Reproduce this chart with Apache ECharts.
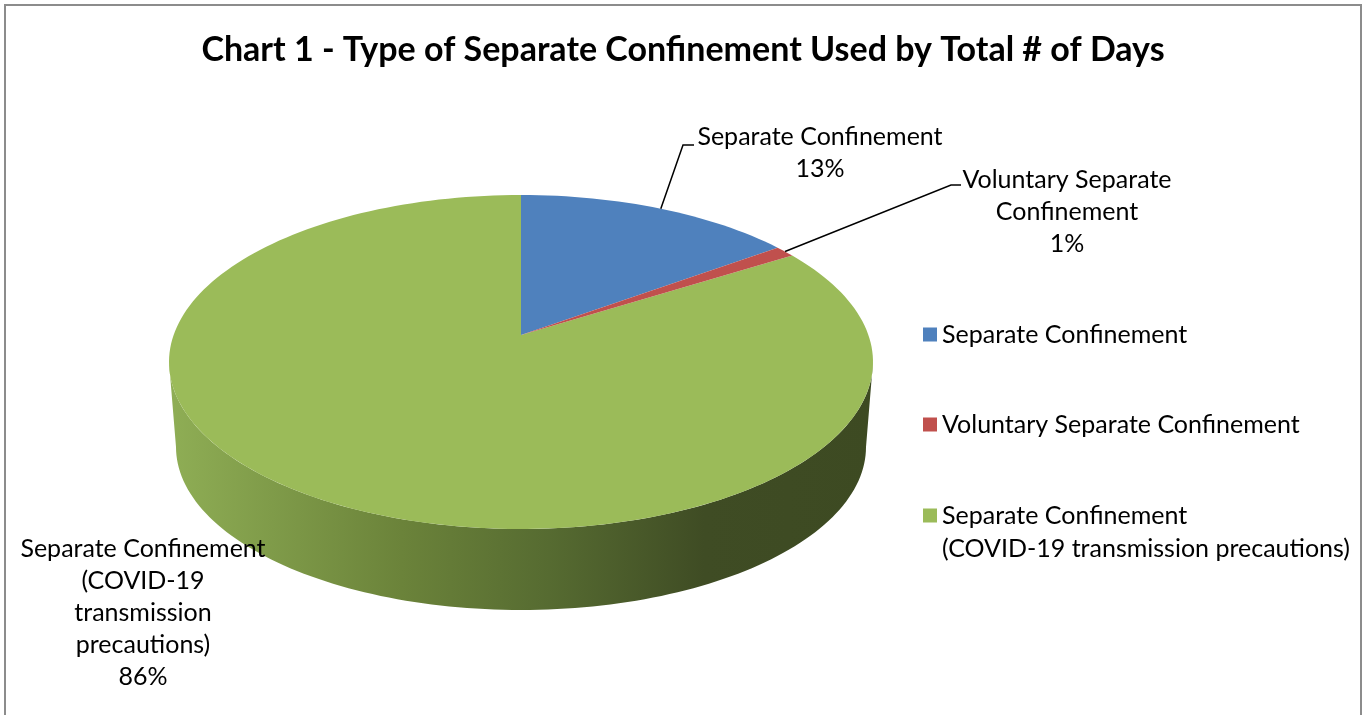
<!DOCTYPE html>
<html>
<head>
<meta charset="utf-8">
<title>Chart 1 - Type of Separate Confinement Used by Total # of Days</title>
<script src="https://cdn.jsdelivr.net/npm/echarts@6/dist/echarts.min.js"></script>
<style>
	html, body { margin: 0; padding: 0; background: #fff; }
	#chart { width: 1366px; height: 715px; }
</style>
</head>
<body>
<div id="chart"></div>
<script>
// 分类（图例名称）
var categories = [
	'Separate Confinement',
	'Voluntary Separate Confinement',
	'Separate Confinement\n(COVID-19 transmission precautions)'
];
// 各类占总天数的百分比
var values = [13, 1, 86];
// 饼图上的数据标签名称
var sliceNames = [
	'Separate Confinement',
	'Voluntary Separate\nConfinement',
	'Separate Confinement\n(COVID-19\ntransmission\nprecautions)'
];
var colors = ['#4f81bd', '#c0504d', '#9bbb59'];

var FONT = 'Lato, "Open Sans", sans-serif';
var FONT_SIZE = 25;

/**
 * 3D饼图几何参数
 * 顶面椭圆中心 cy，饼心 apexY（透视），侧面厚度 depth
 */
var pie = { cx: 521, apexY: 335, cy: 362, rx: 352, ry: 167, depth: 85, rx2: 345, ry2: 163 };

/**
 * 标签布局: 文字中心，引导线拐点
 */
var labelLayout = [
	{ x: 820, y: 153, elbow: [683, 145], end: [694, 145] },
	{ x: 1067, y: 212, elbow: [951, 185], end: [961, 185] },
	{ x: 143, y: 613, elbow: null }
];

var total = 0, starts = [];
for (var i = 0; i < values.length; i ++) {
	starts.push(total);
	total += values[i];
}

// 角度（度，从正上方顺时针）-> 椭圆上的点
function ellPoint(deg, cy, rx, ry) {
	var r = deg * Math.PI / 180;
	return [pie.cx + rx * Math.sin(r), cy - ry * Math.cos(r)];
}

function arc(a0, a1, cy, rx, ry) {
	var pts = [], n = Math.max(2, Math.ceil(Math.abs(a1 - a0) / 1.5));
	for (var k = 0; k <= n; k ++) {
		pts.push(ellPoint(a0 + (a1 - a0) * k / n, cy, rx, ry));
	}
	return pts;
}

function makeRender(idx) {
	return function(params, api) {
		var val = api.value(0);
		var a0 = starts[idx] / total * 360,
			a1 = a0 + val / total * 360;
		var children = [];

		// 侧面（只画正面可见的部分 90° ~ 270°）
		var c0 = Math.max(a0, 90), c1 = Math.min(a1, 270);
		if (c1 > c0) {
			var top = arc(c0, c1, pie.cy, pie.rx, pie.ry),
				bottom = arc(c1, c0, pie.cy + pie.depth, pie.rx2, pie.ry2);
			children.push({
				type: 'polygon',
				shape: { points: top.concat(bottom) },
				style: {
					fill: new echarts.graphic.LinearGradient(0, 0, 1, 0, [
						{ offset: 0, color: '#8fae55' },
						{ offset: 0.33, color: '#6b833a' },
						{ offset: 0.54, color: '#566b31' },
						{ offset: 0.76, color: '#3f4c24' },
						{ offset: 1, color: '#3d4a22' }
					])
				}
			});
		}

		// 顶面
		var face = [[pie.cx, pie.apexY]].concat(arc(a0, a1, pie.cy, pie.rx, pie.ry));
		children.push({
			type: 'polygon',
			shape: { points: face },
			style: { fill: colors[idx] }
		});

		// 引导线
		var lay = labelLayout[idx];
		if (lay.elbow) {
			var mid = ellPoint((a0 + a1) / 2, pie.cy, pie.rx, pie.ry);
			children.push({
				type: 'polyline',
				shape: { points: [mid, lay.elbow, lay.end] },
				style: { stroke: '#000', lineWidth: 1.5, fill: null },
				z2: 10
			});
		}

		// 数据标签
		children.push({
			type: 'text',
			style: {
				text: sliceNames[idx] + '\n' + Math.round(val / total * 100) + '%',
				x: lay.x,
				y: lay.y,
				align: 'center',
				verticalAlign: 'middle',
				fontFamily: FONT,
				fontSize: FONT_SIZE,
				lineHeight: 32,
				fill: '#000'
			},
			z2: 10
		});

		return { type: 'group', children: children };
	};
}

var series = [], legends = [];
var legendTops = [318, 408, 466];
for (var i = 0; i < categories.length; i ++) {
	series.push({
		type: 'custom',
		name: categories[i],
		coordinateSystem: 'none',
		itemStyle: { color: colors[i] },
		renderItem: makeRender(i),
		data: [[values[i]]],
		z: i == 2 ? 1 : 2
	});
	var lg = {
		data: [{ name: categories[i], icon: 'rect', itemStyle: { color: colors[i] } }],
		orient: 'vertical',
		left: 923,
		top: legendTops[i],
		padding: 0,
		itemWidth: 14,
		itemHeight: 14,
		selectedMode: false,
		textStyle: {
			fontFamily: FONT,
			fontSize: FONT_SIZE,
			lineHeight: 33,
			color: '#000'
		}
	};
	if (i == 2) {
		// 多行文字时让色块对齐第一行
		lg.formatter = function(name) {
			var parts = name.split('\n');
			return '{s| }\n{a|' + parts[0] + '}\n{a|' + parts[1] + '}';
		};
		lg.textStyle.rich = {
			s: { fontSize: FONT_SIZE, lineHeight: 33, fontFamily: FONT },
			a: { fontSize: FONT_SIZE, lineHeight: 33, fontFamily: FONT, color: '#000' }
		};
	}
	legends.push(lg);
}

var chart = echarts.init(document.getElementById('chart'));
chart.setOption({
	animation: false,
	backgroundColor: '#fff',
	title: {
		text: 'Chart 1 - Type of Separate Confinement Used by Total # of Days',
		left: 'center',
		top: 33,
		padding: 0,
		textStyle: {
			fontFamily: FONT,
			fontSize: 34,
			fontWeight: 'bold',
			color: '#000'
		}
	},
	legend: legends,
	graphic: [{
		type: 'rect',
		shape: { x: 5, y: 5, width: 1356, height: 800 },
		style: { fill: null, stroke: '#8c8c8c', lineWidth: 2 },
		silent: true
	}],
	series: series
});
</script>
</body>
</html>
